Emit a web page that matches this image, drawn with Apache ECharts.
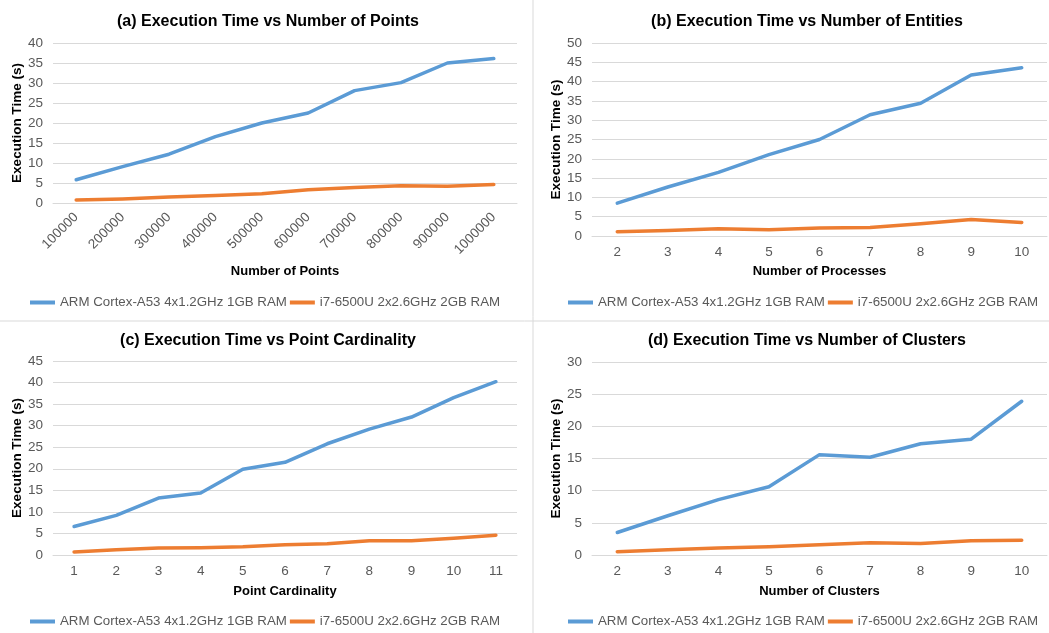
<!DOCTYPE html>
<html>
<head>
<meta charset="utf-8">
<script src="https://cdn.jsdelivr.net/npm/echarts@6/dist/echarts.min.js"></script>
<style>
  html, body { margin: 0; padding: 0; background: #fff; }
  #main { width: 1049px; height: 633px; }
</style>
</head>
<body>
<div id="main"></div>
<script>
// 数据
var seriesNames = ['ARM Cortex-A53 4x1.2GHz 1GB RAM', 'i7-6500U 2x2.6GHz 2GB RAM'];

var pointsCats = ['100000', '200000', '300000', '400000', '500000', '600000', '700000', '800000', '900000', '1000000'];
var pointsArm = [5.8, 9.1, 12.2, 16.6, 20.0, 22.5, 28.1, 30.1, 35.0, 36.1];
var pointsI7 = [0.75, 1.0, 1.5, 1.9, 2.3, 3.3, 3.9, 4.3, 4.2, 4.6];

var entitiesCats = ['2', '3', '4', '5', '6', '7', '8', '9', '10'];
var entitiesArm = [8.5, 12.7, 16.5, 21.1, 25.0, 31.4, 34.4, 41.7, 43.6];
var entitiesI7 = [1.1, 1.4, 1.9, 1.6, 2.1, 2.2, 3.2, 4.3, 3.5];

var cardCats = ['1', '2', '3', '4', '5', '6', '7', '8', '9', '10', '11'];
var cardArm = [6.6, 9.2, 13.2, 14.4, 19.9, 21.5, 25.8, 29.2, 32.0, 36.5, 40.2];
var cardI7 = [0.7, 1.2, 1.6, 1.7, 1.9, 2.4, 2.6, 3.3, 3.3, 3.9, 4.6];

var clusterCats = ['2', '3', '4', '5', '6', '7', '8', '9', '10'];
var clusterArm = [3.5, 6.1, 8.6, 10.6, 15.6, 15.2, 17.3, 18.0, 23.9];
var clusterI7 = [0.5, 0.8, 1.1, 1.3, 1.6, 1.9, 1.8, 2.2, 2.3];

var titles = [
    '(a) Execution Time vs Number of Points',
    '(b) Execution Time vs Number of Entities',
    '(c) Execution Time vs Point Cardinality',
    '(d) Execution Time vs Number of Clusters'
];
var xNames = ['Number of Points', 'Number of Processes', 'Point Cardinality', 'Number of Clusters'];
var yMax = [40, 50, 45, 30];

var font = '"Liberation Sans", Arial, sans-serif';
var colors = ['#5b9bd5', '#ed7d31'];

var myChart = echarts.init(document.getElementById('main'));

var panels = [
    { cats: pointsCats, arm: pointsArm, i7: pointsI7, grid: { left: 53, top: 43, width: 464, height: 160 }, cx: 263, titleTop: 9, legendTop: 296, legendLeft: 30, nameGap: 62, rotate: 45, margin: 12 },
    { cats: entitiesCats, arm: entitiesArm, i7: entitiesI7, grid: { left: 592, top: 43, width: 455, height: 193 }, cx: 802, titleTop: 9, legendTop: 296, legendLeft: 568, nameGap: 29, rotate: 0, margin: 9 },
    { cats: cardCats, arm: cardArm, i7: cardI7, grid: { left: 53, top: 361, width: 464, height: 194 }, cx: 263, titleTop: 328, legendTop: 615, legendLeft: 30, nameGap: 30, rotate: 0, margin: 9 },
    { cats: clusterCats, arm: clusterArm, i7: clusterI7, grid: { left: 592, top: 362, width: 455, height: 193 }, cx: 802, titleTop: 328, legendTop: 615, legendLeft: 568, nameGap: 30, rotate: 0, margin: 9 }
];

var option = {
    animation: false,
    textStyle: { fontFamily: font },
    color: colors,
    title: [], legend: [], grid: [], xAxis: [], yAxis: [], series: [],
    graphic: [
        { type: 'line', shape: { x1: 533, y1: 0, x2: 533, y2: 633 }, style: { stroke: '#d9d9d9', lineWidth: 1 } },
        { type: 'line', shape: { x1: 0, y1: 321, x2: 1049, y2: 321 }, style: { stroke: '#d9d9d9', lineWidth: 1 } }
    ]
};

panels.forEach(function (p, i) {
    option.title.push({
        text: titles[i],
        left: p.cx, top: p.titleTop, textAlign: 'center',
        textStyle: { fontSize: 16, fontWeight: 'bold', color: '#000', fontFamily: font }
    });
    option.legend.push({
        data: seriesNames,
        left: p.legendLeft, width: 490, top: p.legendTop, padding: 0,
        itemWidth: 25, itemHeight: 4, icon: 'rect', itemGap: 3,
        textStyle: { fontSize: 13.3, color: '#595959', fontFamily: font },
        selectedMode: false
    });
    option.grid.push({ left: p.grid.left, top: p.grid.top, width: p.grid.width, height: p.grid.height });
    option.xAxis.push({
        type: 'category', gridIndex: i, data: p.cats, boundaryGap: true,
        name: xNames[i], nameLocation: 'middle', nameGap: p.nameGap,
        nameTextStyle: { fontSize: 13, fontWeight: 'bold', color: '#000' },
        axisLine: { lineStyle: { color: '#d9d9d9' } },
        axisTick: { show: false },
        axisLabel: { fontSize: 13.5, color: '#595959', rotate: p.rotate, margin: p.margin, interval: 0 }
    });
    option.yAxis.push({
        type: 'value', gridIndex: i, min: 0, max: yMax[i], interval: 5,
        name: 'Execution Time (s)', nameLocation: 'middle', nameGap: 28,
        nameTextStyle: { fontSize: 13.5, fontWeight: 'bold', color: '#000' },
        axisLine: { show: false }, axisTick: { show: false },
        axisLabel: { fontSize: 13.5, color: '#595959', margin: 10 },
        splitLine: { lineStyle: { color: '#d9d9d9' } }
    });
    [p.arm, p.i7].forEach(function (vals, k) {
        option.series.push({
            name: seriesNames[k], type: 'line', xAxisIndex: i, yAxisIndex: i,
            data: vals, showSymbol: false, symbol: 'none',
            lineStyle: { width: 3.5, color: colors[k], cap: 'round', join: 'round' },
            itemStyle: { color: colors[k] }
        });
    });
});

myChart.setOption(option);
</script>
</body>
</html>
